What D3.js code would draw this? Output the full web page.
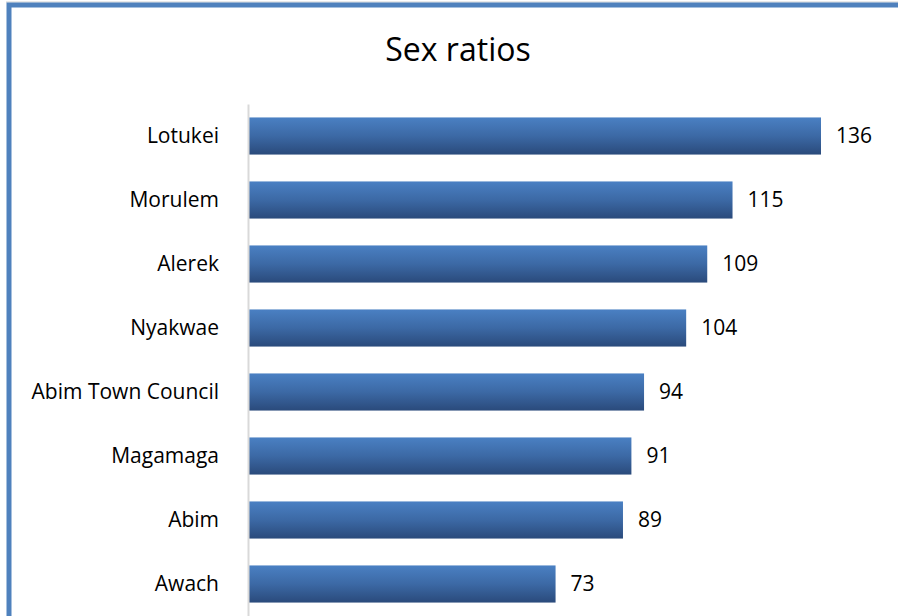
<!DOCTYPE html>
<html>
<head>
<meta charset="utf-8">
<script src="https://cdn.jsdelivr.net/npm/d3@7"></script>
<style>
  html, body { margin: 0; padding: 0; background: #fff; }
  svg { display: block; font-family: "Open Sans", Calibri, sans-serif; }
</style>
</head>
<body>
<svg id="chart" width="898" height="616"></svg>
<script>
var categories = ["Lotukei", "Morulem", "Alerek", "Nyakwae", "Abim Town Council", "Magamaga", "Abim", "Awach"];
var ratios = [136, 115, 109, 104, 94, 91, 89, 73];
var chartTitle = "Sex ratios";

var svg = d3.select("#chart"),
    margin = {top: 104, left: 248},
    width = 573,
    height = 512;

// frame: thin grey edge with the blue border inside it
svg.append("line").attr("x1", 6).attr("x2", 898).attr("y1", 2).attr("y2", 2)
    .attr("stroke", "#d0d0d0").attr("stroke-width", 1);
svg.append("path")
    .attr("d", "M9,616 V5 H898")
    .attr("fill", "none")
    .attr("stroke", "#4f81bd")
    .attr("stroke-width", 5);

var defs = svg.append("defs");
var grad = defs.append("linearGradient")
    .attr("id", "barGrad")
    .attr("x1", 0).attr("y1", 0).attr("x2", 0).attr("y2", 1);
grad.append("stop").attr("offset", "0%").attr("stop-color", "#4a80c3");
grad.append("stop").attr("offset", "50%").attr("stop-color", "#3c69a5");
grad.append("stop").attr("offset", "100%").attr("stop-color", "#2a4a7b");

svg.append("text")
    .attr("x", 458)
    .attr("y", 61)
    .attr("text-anchor", "middle")
    .attr("font-size", "32px")
    .attr("fill", "#000")
    .text(chartTitle);

var g = svg.append("g").attr("transform", "translate(" + margin.left + "," + margin.top + ")");

var x = d3.scaleLinear()
    .domain([0, 136])
    .range([0, width]);

var y = d3.scaleBand()
    .domain(categories)
    .range([0, height])
    .paddingInner(0.42)
    .paddingOuter(0.21);

g.selectAll(".bar")
    .data(categories)
    .enter().append("rect")
    .attr("class", "bar")
    .attr("x", 0)
    .attr("y", function(d) { return y(d); })
    .attr("width", function(d, i) { return x(ratios[i]); })
    .attr("height", y.bandwidth())
    .attr("fill", "url(#barGrad)");

g.selectAll(".val")
    .data(categories)
    .enter().append("text")
    .attr("class", "val")
    .attr("x", function(d, i) { return x(ratios[i]) + 15; })
    .attr("y", function(d) { return y(d) + y.bandwidth() / 2; })
    .attr("dy", "0.35em")
    .attr("font-size", "21px")
    .attr("fill", "#000")
    .text(function(d, i) { return ratios[i]; });

var yAxis = g.append("g")
    .attr("class", "axis")
    .call(d3.axisLeft(y).tickSize(0).tickPadding(29));

yAxis.select(".domain").attr("stroke", "#d9d9d9").attr("stroke-width", 2);
yAxis.selectAll("text")
    .attr("font-size", "21px")
    .attr("font-family", "\"Open Sans\", Calibri, sans-serif")
    .attr("fill", "#000");
</script>
</body>
</html>
